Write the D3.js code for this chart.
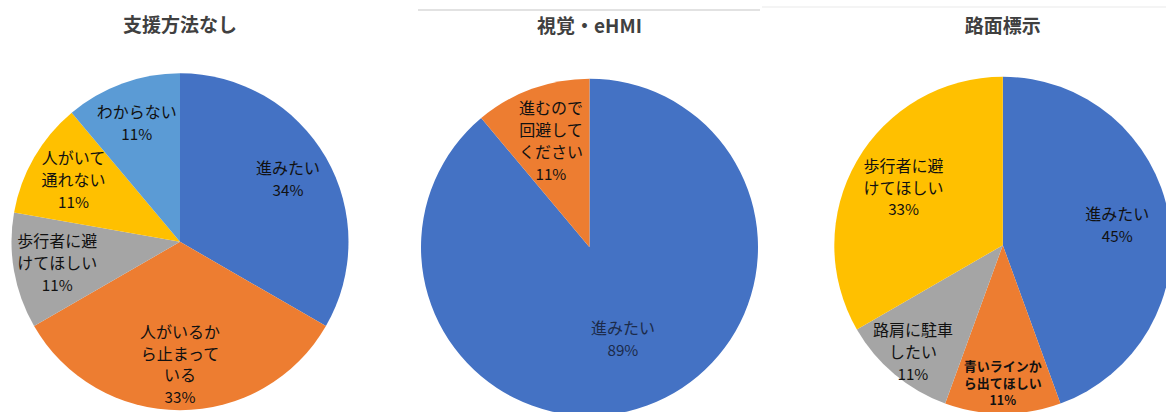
<!DOCTYPE html>
<html>
<head>
<meta charset="utf-8">
<script src="https://cdn.jsdelivr.net/npm/d3@7"></script>
<style>
  html, body { margin: 0; padding: 0; background: #fff; }
  svg { display: block; }
</style>
</head>
<body>
<div id="chart"></div>
<script>
// data (answers out of 9 respondents, labels as printed)
var titles = ["支援方法なし", "視覚・eHMI", "路面標示"]

var cats1 = ["進みたい", "人がいるか\nら止まって\nいる", "歩行者に避\nけてほしい", "人がいて\n通れない", "わからない"]
var vals1 = [3, 3, 1, 1, 1]
var pct1 = ["34%", "33%", "11%", "11%", "11%"]

var cats2 = ["進みたい", "進むので\n回避して\nください"]
var vals2 = [8, 1]
var pct2 = ["89%", "11%"]

var cats3 = ["進みたい", "青いラインか\nら出てほしい", "路肩に駐車\nしたい", "歩行者に避\nけてほしい"]
var vals3 = [4, 1, 1, 3]
var pct3 = ["45%", "11%", "11%", "33%"]

var colors1 = ["#4472C4", "#ED7D31", "#A5A5A5", "#FFC000", "#5B9BD5"]
var colors2 = ["#4472C4", "#ED7D31"]
var colors3 = ["#4472C4", "#ED7D31", "#A5A5A5", "#FFC000"]

var width = 1166, height = 412
var svg = d3.select('#chart').append('svg')
  .attr('width', width)
  .attr('height', height)

// faint rules at the top of the 2nd and 3rd panels
svg.append('line').attr('x1', 418).attr('x2', 760).attr('y1', 10).attr('y2', 10)
  .attr('stroke', '#d9d9d9').attr('stroke-width', 1.5)
svg.append('line').attr('x1', 762).attr('x2', 1166).attr('y1', 7).attr('y2', 7)
  .attr('stroke', '#f1f1f1').attr('stroke-width', 1.5)

var r = 168.5
var charts = [
  {cx: 180, cy: 241.8, ty: 32, cats: cats1, vals: vals1, pct: pct1, colors: colors1,
   lr: [0.74, 0.73, 0.74, 0.73, 0.75], fs: [16, 16, 16, 16, 16], col: ["#111", "#111", "#111", "#111", "#111"]},
  {cx: 589.5, cy: 247.2, ty: 33, cats: cats2, vals: vals2, pct: pct2, colors: colors2,
   lr: [0.58, 0.67], fs: [16, 16], col: ["#1c2b4a", "#111"]},
  {cx: 1002.8, cy: 245.2, ty: 33, cats: cats3, vals: vals3, pct: pct3, colors: colors3,
   lr: [0.69, 0.82, 0.83, 0.68], fs: [16, 13, 16, 16], col: ["#111", "#111", "#111", "#111"]}
]

var pie = d3.pie().sort(null).value(function(d) { return d })
var arc = d3.arc().innerRadius(0).outerRadius(r)

charts.forEach(function(c, ci) {
  svg.append('text')
    .attr('x', c.cx)
    .attr('y', c.ty)
    .attr('text-anchor', 'middle')
    .attr('font-family', '"Noto Sans CJK JP", "Noto Sans", sans-serif')
    .attr('font-size', 19)
    .attr('font-weight', 'bold')
    .attr('fill', '#404040')
    .text(titles[ci])

  var g = svg.append('g').attr('transform', 'translate(' + c.cx + ',' + c.cy + ')')
  var arcs = pie(c.vals)

  g.selectAll('path')
    .data(arcs)
    .enter().append('path')
    .attr('d', arc)
    .attr('fill', function(d, i) { return c.colors[i] })

  arcs.forEach(function(d, i) {
    var lab = d3.arc().innerRadius(r * c.lr[i]).outerRadius(r * c.lr[i])
    var p = lab.centroid(d)
    var lines = c.cats[i].split('\n').concat([c.pct[i]])
    var fs = c.fs[i]
    var lh = fs < 15 ? fs * 1.32 : fs * 1.36
    var t = g.append('text')
      .attr('text-anchor', 'middle')
      .attr('font-family', '"Noto Sans CJK JP", sans-serif')
      .attr('font-size', fs)
      .attr('font-weight', fs < 15 ? 'bold' : 'normal')
      .attr('fill', c.col[i])
    var y0 = p[1] - (lines.length - 1) * lh / 2 + fs * 0.36
    lines.forEach(function(s, k) {
      var isPct = k == lines.length - 1
      t.append('tspan')
        .attr('x', p[0])
        .attr('y', y0 + k * lh)
        .attr('font-family', isPct ? '"Liberation Sans Narrow", "Noto Sans CJK JP", sans-serif' : null)
        .attr('font-size', isPct ? fs * 0.95 : null)
        .text(s)
    })
  })
})
</script>
</body>
</html>
